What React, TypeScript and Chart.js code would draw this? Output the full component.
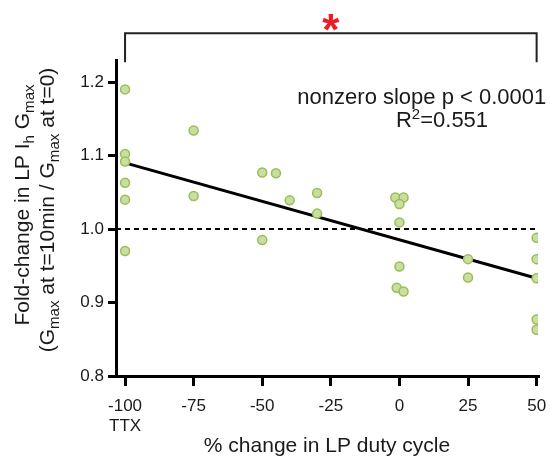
import React, { useEffect, useRef } from "react";
import { Chart, registerables } from "chart.js";

Chart.register(...registerables);

const FONT = "'Liberation Sans', Arial, Helvetica, sans-serif";
const TEXT = "#1a1a1a";

// ---- axes ----
const X_MIN = -103.3;
const X_MAX = 50.5;
const Y_MIN = 0.8;
const Y_MAX = 1.23;
const X_TICKS = [-100, -75, -50, -25, 0, 25, 50];
const X_TICK_LABELS: (string | string[])[] = [["-100", "TTX"], "-75", "-50", "-25", "0", "25", "50"];
const Y_TICKS = [0.8, 0.9, 1.0, 1.1, 1.2];

// ---- data points ----
const PT_X = [
  -100, -100, -100, -100, -100, -100,
  -75, -75,
  -50, -50,
  -45,
  -40,
  -30, -30,
  -1.5, 1.5,
  0, 0, 0,
  -1, 1.5,
  25, 25,
  50, 50, 50, 50, 50,
];
const PT_Y = [
  1.19, 1.102, 1.092, 1.063, 1.04, 0.97,
  1.134, 1.045,
  1.077, 0.985,
  1.076,
  1.039,
  1.049, 1.021,
  1.043, 1.043,
  1.034, 1.009, 0.949,
  0.92, 0.915,
  0.959, 0.934,
  0.988, 0.959, 0.933, 0.877, 0.863,
];

// ---- regression fit & reference ----
const FIT_X = [-100, 50];
const FIT_Y = [1.09, 0.933];
const REF_Y = 1.0;

// ---- annotations (data coordinates) ----
const BRACKET_X = [-100, 50];
const BRACKET_Y_TOP = 1.2663;
const BRACKET_Y_LEG = 1.2268;
const STAR_Y = 1.281;
const NOTE1 = "nonzero slope p < 0.0001";
const NOTE1_X = -37.2;
const NOTE1_Y = 1.1696;
const NOTE2_X = -1.27;
const NOTE2_Y = 1.1383;
const R2_TEXT = "=0.551";

type Seg = { t: string; sub?: boolean };
const Y_TITLE_1: Seg[] = [
  { t: "Fold-change in LP I" },
  { t: "h", sub: true },
  { t: " G" },
  { t: "max", sub: true },
];
const Y_TITLE_2: Seg[] = [
  { t: "(G" },
  { t: "max", sub: true },
  { t: " at t=10min / G" },
  { t: "max", sub: true },
  { t: " at t=0)" },
];

function drawRotated(ctx: CanvasRenderingContext2D, segs: Seg[], baseX: number, centerY: number, size: number) {
  ctx.save();
  ctx.translate(baseX, centerY);
  ctx.rotate(-Math.PI / 2);
  ctx.fillStyle = TEXT;
  ctx.textBaseline = "alphabetic";
  ctx.textAlign = "left";
  const widths = segs.map((s) => {
    ctx.font = `${s.sub ? size * 0.72 : size}px ${FONT}`;
    return ctx.measureText(s.t).width;
  });
  const total = widths.reduce((a, b) => a + b, 0);
  let x = -total / 2;
  segs.forEach((s, i) => {
    ctx.font = `${s.sub ? size * 0.72 : size}px ${FONT}`;
    ctx.fillText(s.t, x, s.sub ? size * 0.24 : 0);
    x += widths[i];
  });
  ctx.restore();
}

const annotPlugin = {
  id: "annot",
  afterDraw(chart: any) {
    const ctx: CanvasRenderingContext2D = chart.ctx;
    const xs = chart.scales.x;
    const ys = chart.scales.y;
    ctx.save();
    // bracket
    const bx1 = xs.getPixelForValue(BRACKET_X[0]);
    const bx2 = xs.getPixelForValue(BRACKET_X[1]);
    const byT = ys.getPixelForValue(BRACKET_Y_TOP);
    const byL = ys.getPixelForValue(BRACKET_Y_LEG);
    ctx.strokeStyle = "#222";
    ctx.lineWidth = 2;
    ctx.beginPath();
    ctx.moveTo(bx1, byL);
    ctx.lineTo(bx1, byT);
    ctx.lineTo(bx2, byT);
    ctx.lineTo(bx2, byL);
    ctx.stroke();
    // asterisk
    ctx.fillStyle = "#ee1c25";
    ctx.font = `bold 44px ${FONT}`;
    ctx.textAlign = "center";
    ctx.textBaseline = "alphabetic";
    const m = ctx.measureText("*");
    const sx = xs.getPixelForValue((BRACKET_X[0] + BRACKET_X[1]) / 2);
    const sy = ys.getPixelForValue(STAR_Y);
    const base = sy - (m.actualBoundingBoxDescent - m.actualBoundingBoxAscent) / 2;
    ctx.fillText("*", sx, base);
    // stats text
    ctx.fillStyle = TEXT;
    ctx.textAlign = "left";
    ctx.font = `22px ${FONT}`;
    ctx.fillText(NOTE1, xs.getPixelForValue(NOTE1_X), ys.getPixelForValue(NOTE1_Y));
    let rx = xs.getPixelForValue(NOTE2_X);
    const ry = ys.getPixelForValue(NOTE2_Y);
    ctx.fillText("R", rx, ry);
    rx += ctx.measureText("R").width;
    ctx.font = `15px ${FONT}`;
    ctx.fillText("2", rx, ry - 8);
    rx += ctx.measureText("2").width;
    ctx.font = `22px ${FONT}`;
    ctx.fillText(R2_TEXT, rx, ry);
    // y title
    drawRotated(ctx, Y_TITLE_1, 29, 205, 21);
    drawRotated(ctx, Y_TITLE_2, 54, 210, 21);
    ctx.restore();
  },
};

export default function App() {
  const ref = useRef<HTMLCanvasElement | null>(null);
  useEffect(() => {
    if (!ref.current) return;
    const chart = new Chart(ref.current, {
      type: "scatter",
      data: {
        datasets: [
          {
            label: "points",
            data: PT_X.map((x, i) => ({ x, y: PT_Y[i] })),
            pointRadius: 4.5,
            pointBackgroundColor: "#c9dea0",
            pointBorderColor: "#99bd58",
            pointBorderWidth: 1.5,
            order: 0,
          },
          {
            label: "fit",
            data: FIT_X.map((x, i) => ({ x, y: FIT_Y[i] })),
            showLine: true,
            borderColor: "#000",
            borderWidth: 3,
            pointRadius: 0,
            order: 1,
          },
          {
            label: "ref",
            data: [
              { x: X_MIN, y: REF_Y },
              { x: X_MAX, y: REF_Y },
            ],
            showLine: true,
            borderColor: "#000",
            borderWidth: 2,
            borderDash: [5, 4],
            pointRadius: 0,
            order: 2,
          },
        ],
      },
      options: {
        animation: false,
        responsive: false,
        layout: { padding: { left: 0, right: 12, top: 60, bottom: 0 } },
        plugins: { legend: { display: false }, tooltip: { enabled: false } },
        scales: {
          x: {
            type: "linear",
            min: X_MIN,
            max: X_MAX,
            afterBuildTicks: (s: any) => {
              s.ticks = X_TICKS.map((v) => ({ value: v }));
            },
            afterFit: (s: any) => {
              s.height = 83;
              s.paddingLeft = 0;
              s.paddingRight = 0;
            },
            ticks: {
              callback: (_v: any, i: number) => X_TICK_LABELS[i],
              font: { size: 17, family: FONT, lineHeight: 1.2 },
              color: TEXT,
              padding: 10,
              maxRotation: 0,
              autoSkip: false,
            },
            grid: { drawOnChartArea: false, drawTicks: true, tickLength: 10, lineWidth: 3, color: "#000" },
            border: { display: true, color: "#000", width: 3 },
            title: {
              display: true,
              text: "% change in LP duty cycle",
              font: { size: 21, family: FONT },
              color: TEXT,
              padding: 0,
            },
          },
          y: {
            type: "linear",
            min: Y_MIN,
            max: Y_MAX,
            afterBuildTicks: (s: any) => {
              s.ticks = Y_TICKS.map((v) => ({ value: v }));
            },
            afterFit: (s: any) => {
              s.width = 116;
              s.paddingTop = 0;
              s.paddingBottom = 0;
            },
            ticks: {
              callback: (v: any) => Number(v).toFixed(1),
              font: { size: 17, family: FONT },
              color: TEXT,
              padding: 4,
            },
            grid: { drawOnChartArea: false, drawTicks: true, tickLength: 8, lineWidth: 3, color: "#000" },
            border: { display: true, color: "#000", width: 3 },
          },
        },
      },
      plugins: [annotPlugin],
    } as any);
    return () => chart.destroy();
  }, []);
  return (
    <div style={{ position: "absolute", left: 0, top: 0, width: 550, height: 459, background: "#fff" }}>
      <canvas ref={ref} width={550} height={459} style={{ width: 550, height: 459, display: "block" }} />
    </div>
  );
}
